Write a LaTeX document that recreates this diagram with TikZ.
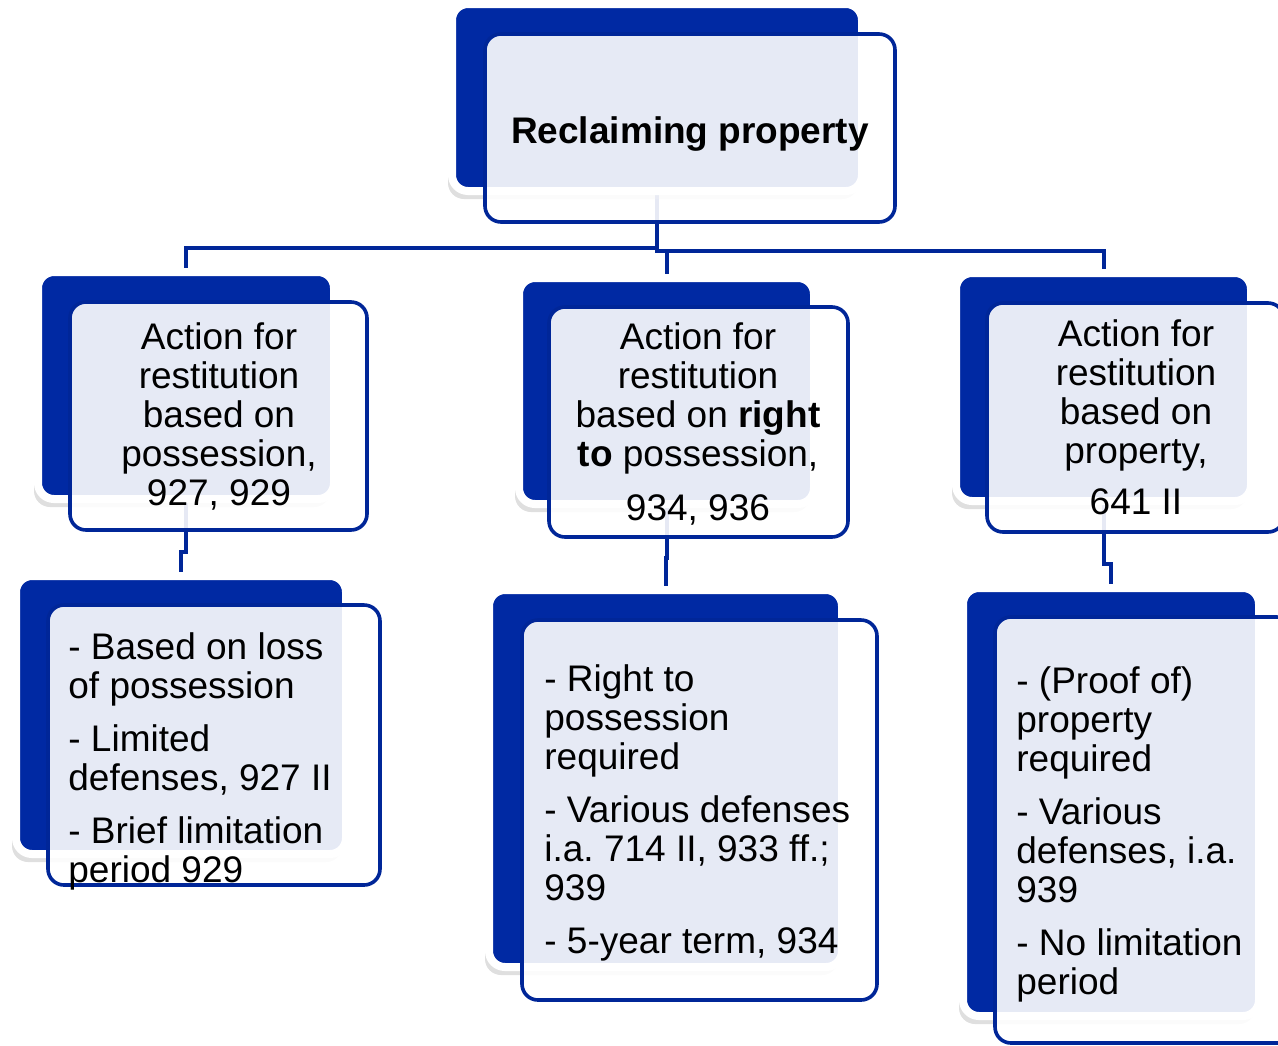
\documentclass[tikz,border=0pt]{standalone}
\usepackage{fontspec}
\setmainfont{Liberation Sans}
\frenchspacing
\usetikzlibrary{positioning,shadows,backgrounds}
\definecolor{smartblue}{RGB}{0,41,163}
\definecolor{smartline}{RGB}{0,38,152}

\begin{document}
\begin{tikzpicture}[x=0.5pt,y=-0.5pt,
    back/.style={rectangle,rounded corners=8pt,fill=smartblue,draw=white,
		line width=4pt,inner sep=0pt,
		drop shadow={shadow xshift=-2pt,shadow yshift=-4pt,opacity=0.25}},
    front/.style={rectangle,rounded corners=8pt,draw=smartline,
		line width=1.8pt,fill=white,fill opacity=0.9,inner sep=0pt},
% Text styles
    head/.style={font=\fontsize{18.5}{19.5}\selectfont\bfseries,
		inner sep=0pt,anchor=base},
    title/.style={font=\fontsize{18.5}{19.5}\selectfont,align=center,
		inner sep=0pt,anchor=north},
    items/.style={font=\fontsize{18.5}{19.5}\selectfont,align=left,
		inner sep=0pt,anchor=north west},
    link/.style={draw=smartline,line width=2pt}
    ]
   \useasboundingbox (0,0) rectangle (1278,1045);

%%% Back boxes
   \node [back,minimum width=205pt,minimum height=93.5pt] (rootb) at (657,97.5) {};
   \node [back,minimum width=148pt,minimum height=113.5pt] (posb) at (186,385.5) {};
   \node [back,minimum width=147.5pt,minimum height=113pt] (rightb) at (666.5,391) {};
   \node [back,minimum width=147.5pt,minimum height=114pt] (propb) at (1103.5,387) {};
   \node [back,minimum width=165pt,minimum height=139pt] (posdb) at (181,715) {};
   \node [back,minimum width=176.5pt,minimum height=188.5pt] (rightdb) at (665.5,778.5) {};
   \node [back,minimum width=148pt,minimum height=214pt] (propdb) at (1111,802) {};

%%% Front boxes
   \node [front,minimum width=205pt,minimum height=94pt] (rootf) at (690,128) {};
   \node [front,minimum width=148.5pt,minimum height=114pt] (posf) at (218.5,416) {};
   \node [front,minimum width=149.5pt,minimum height=115pt] (rightf) at (698.5,422) {};
   \node [front,minimum width=148.5pt,minimum height=114.5pt] (propf) at (1135.5,417.5) {};
   \node [front,minimum width=166pt,minimum height=140pt] (posdf) at (214,745) {};
   \node [front,minimum width=177.5pt,minimum height=190pt] (rightdf) at (699.5,810) {};
   \node [front,minimum width=149pt,minimum height=213pt] (propdf) at (1144,830) {};

%%% Texts
   \node [head] (roott) at (690,143) {Reclaiming property};
   \node [title] (post) at (219,322) {Action for\\restitution\\based on\\possession,\\927, 929};
   \node [title] (rightt) at (698,322) {Action for\\restitution\\based on \textbf{right}\\
	\textbf{to} possession,\\[7.5pt]934, 936};
   \node [title] (propt) at (1136,319) {Action for\\restitution\\based on\\property,\\[6pt]641 II};
   \node [items] (posdt) at (68,632) {- Based on loss\\of possession\\[7pt]- Limited\\
	defenses, 927 II\\[7pt]- Brief limitation\\period 929};
   \node [items] (rightdt) at (544,664) {- Right to\\possession\\required\\[7pt]
	- Various defenses\\i.a. 714 II, 933 ff.;\\939\\[7pt]- 5-year term, 934};
   \node [items] (propdt) at (1016,666) {- (Proof of)\\property\\required\\[7pt]
	- Various\\defenses, i.a.\\939\\[7pt]- No limitation\\period};

%%% Connectors
   \begin{pgfonlayer}{background}
      \draw [link] (rootb.south) -- ++(0,53) -| (posb.north);
      \draw [link] (rootb.south) -- ++(0,56) -| (rightb.north);
      \draw [link] (rootb.south) -- ++(0,56) -| (propb.north);
      \draw [link] (posb.south) -- ++(0,49) -| (posdb.north);
      \draw [link] (rightb.south) -- ++(0,50) -| (rightdb.north);
      \draw [link] (propb.south) -- ++(0,59) -| (propdb.north);
   \end{pgfonlayer}
\end{tikzpicture}
\end{document}
